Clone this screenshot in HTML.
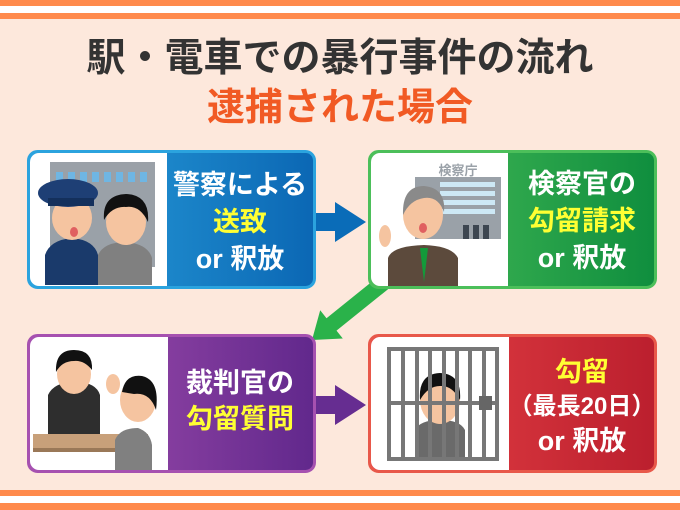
<!DOCTYPE html>
<html><head><meta charset="utf-8"><style>
body{margin:0;width:680px;height:510px;overflow:hidden;background:#fde8dc}
svg{display:block}
text{font-family:"Liberation Sans","Noto Sans CJK JP",sans-serif;font-weight:bold}
</style></head><body>
<svg width="680" height="510" viewBox="0 0 680 510">
<defs>
<linearGradient id="gb" x1="0" x2="1"><stop offset="0" stop-color="#2ba3de"/><stop offset="1" stop-color="#0b67b4"/></linearGradient>
<linearGradient id="gg" x1="0" x2="1"><stop offset="0" stop-color="#4cbf5a"/><stop offset="1" stop-color="#0f8e3e"/></linearGradient>
<linearGradient id="gp" x1="0" x2="1"><stop offset="0" stop-color="#a651b0"/><stop offset="1" stop-color="#61288c"/></linearGradient>
<linearGradient id="gr" x1="0" x2="1"><stop offset="0" stop-color="#e84346"/><stop offset="1" stop-color="#bb1f2e"/></linearGradient>
</defs>
<rect width="680" height="510" fill="#fde8dc"/>
<rect x="0" y="0" width="680" height="6" fill="#ff8a4c"/>
<rect x="0" y="6" width="680" height="7" fill="#fff"/>
<rect x="0" y="13" width="680" height="6" fill="#ff8a4c"/>
<rect x="0" y="490" width="680" height="6" fill="#ff8a4c"/>
<rect x="0" y="496" width="680" height="7" fill="#fff"/>
<rect x="0" y="503" width="680" height="7" fill="#ff8a4c"/>

<text x="340" y="71" font-size="39" fill="#333" text-anchor="middle">駅・電車での暴行事件の流れ</text>
<text x="340" y="120" font-size="38" fill="#f15a24" text-anchor="middle">逮捕された場合</text>

<!-- arrows -->
<path d="M315 213 H335 V202 L366 222 L335 242 V231 H315 Z" fill="#0a6cb8"/>
<polygon points="378,276.8 326.5,318.2 320.2,310.3 312,340 342.8,338.5 336.5,330.6 388,289.2" fill="#2ab24a"/>
<path d="M315 396 H335 V385 L366 405 L335 425 V414 H315 Z" fill="#662d91"/>

<!-- box1 -->
<rect x="28.5" y="151.5" width="286" height="136" rx="9" fill="url(#gb)" stroke="#2ba3de" stroke-width="3"/>
<path d="M30 162 a9 9 0 0 1 9-9 H167 V286 H39 a9 9 0 0 1-9-9Z" fill="#fff"/>
<rect x="50" y="162" width="105" height="105" fill="#9aa1a8"/>
<g fill="#6fb6e3"><rect x="56" y="172" width="7" height="10"/><rect x="68" y="172" width="7" height="10"/><rect x="80" y="172" width="7" height="10"/><rect x="92" y="172" width="7" height="10"/><rect x="104" y="172" width="7" height="10"/><rect x="116" y="172" width="7" height="10"/><rect x="128" y="172" width="7" height="10"/><rect x="140" y="172" width="7" height="10"/></g>
<path d="M45 285 V255 Q50 240 72 238 Q94 240 98 255 V285Z" fill="#1a3a6b"/>
<ellipse cx="72" cy="218" rx="20" ry="22" fill="#f5c4a0"/>
<ellipse cx="68" cy="193" rx="30" ry="14" fill="#1e3f75"/>
<rect x="48" y="198" width="46" height="8" fill="#14305c"/>
<ellipse cx="74" cy="232" rx="4" ry="5" fill="#e06060"/>
<path d="M98 285 V255 Q104 242 126 242 Q148 244 152 258 V285Z" fill="#808080"/>
<ellipse cx="126" cy="222" rx="20" ry="23" fill="#f5c4a0"/>
<path d="M104 220 Q102 195 126 194 Q150 195 148 222 Q140 205 126 207 Q112 206 104 220Z" fill="#111"/>
<text x="240" y="194" font-size="27" fill="#fff" text-anchor="middle">警察による</text>
<text x="240" y="231" font-size="27" fill="#ffff33" text-anchor="middle">送致</text>
<text x="240" y="268" font-size="27" fill="#fff" text-anchor="middle">or 釈放</text>

<!-- box2 -->
<rect x="369.5" y="151.5" width="286" height="136" rx="9" fill="url(#gg)" stroke="#4cbf5a" stroke-width="3"/>
<path d="M371 162 a9 9 0 0 1 9-9 H508 V286 H380 a9 9 0 0 1-9-9Z" fill="#fff"/>
<rect x="415" y="177" width="86" height="62" fill="#9aa1a8"/>
<g fill="#cde8f5"><rect x="440" y="182" width="55" height="5"/><rect x="440" y="191" width="55" height="5"/><rect x="440" y="200" width="55" height="5"/><rect x="440" y="209" width="55" height="5"/></g>
<g fill="#3d4650"><rect x="463" y="225" width="6" height="14"/><rect x="473" y="225" width="6" height="14"/><rect x="483" y="225" width="6" height="14"/></g>
<text x="458" y="175" font-size="13" fill="#9aa1a8" text-anchor="middle">検察庁</text>
<path d="M388 286 V258 Q392 246 424 245 Q452 246 458 258 V286Z" fill="#5c4a3c"/>
<path d="M420 248 L424 282 L428 248Z" fill="#139a3a"/>
<ellipse cx="423" cy="215" rx="20" ry="24" fill="#f5c4a0"/>
<path d="M403 215 Q402 186 424 186 Q446 188 444 212 Q438 196 424 198 Q410 200 403 215Z" fill="#8a8a8a"/>
<ellipse cx="423" cy="228" rx="4" ry="5" fill="#e06060"/>
<ellipse cx="385" cy="236" rx="6" ry="11" fill="#f5c4a0"/>
<text x="582" y="193" font-size="27" fill="#fff" text-anchor="middle">検察官の</text>
<text x="582" y="230" font-size="27" fill="#ffff33" text-anchor="middle">勾留請求</text>
<text x="582" y="267" font-size="27" fill="#fff" text-anchor="middle">or 釈放</text>

<!-- box3 -->
<rect x="28.5" y="335.5" width="286" height="136" rx="9" fill="url(#gp)" stroke="#a651b0" stroke-width="3"/>
<path d="M30 346 a9 9 0 0 1 9-9 H168 V470 H39 a9 9 0 0 1-9-9Z" fill="#fff"/>
<path d="M48 438 V395 Q54 382 75 382 Q96 382 100 395 V438Z" fill="#2e2e2e"/>
<ellipse cx="74" cy="374" rx="17" ry="20" fill="#f5c4a0"/>
<path d="M56 372 Q55 350 74 350 Q93 350 92 370 Q84 360 74 361 Q62 361 56 372Z" fill="#111"/>
<ellipse cx="113" cy="384" rx="7" ry="10" fill="#f5c4a0"/>
<rect x="33" y="434" width="115" height="16" fill="#c8a07a"/>
<rect x="33" y="448" width="115" height="4" fill="#9a7858"/>
<path d="M115 470 V440 Q120 428 138 428 Q150 432 152 445 V470Z" fill="#808080"/>
<ellipse cx="138" cy="400" rx="18" ry="22" fill="#f5c4a0"/>
<path d="M122 392 Q125 374 142 376 Q160 380 156 410 Q150 392 134 394Z" fill="#111"/>
<text x="240" y="392" font-size="27" fill="#fff" text-anchor="middle">裁判官の</text>
<text x="240" y="428" font-size="27" fill="#ffff33" text-anchor="middle">勾留質問</text>

<!-- box4 -->
<rect x="369.5" y="335.5" width="286" height="136" rx="9" fill="url(#gr)" stroke="#e8584a" stroke-width="3"/>
<path d="M371 346 a9 9 0 0 1 9-9 H509 V470 H380 a9 9 0 0 1-9-9Z" fill="#fff"/>
<path d="M415 460 V430 Q420 420 440 420 Q460 420 465 430 V460Z" fill="#6a6a6a"/>
<ellipse cx="440" cy="400" rx="20" ry="24" fill="#f5c4a0"/>
<path d="M420 400 Q418 374 440 373 Q462 374 460 400 Q452 385 440 386 Q428 386 420 400Z" fill="#111"/>
<g stroke="#777" stroke-width="4" fill="none">
<rect x="389" y="349" width="108" height="110"/>
<line x1="403" y1="349" x2="403" y2="459"/><line x1="417" y1="349" x2="417" y2="459"/><line x1="430" y1="349" x2="430" y2="459"/><line x1="444" y1="349" x2="444" y2="459"/><line x1="457" y1="349" x2="457" y2="459"/><line x1="470" y1="349" x2="470" y2="459"/><line x1="484" y1="349" x2="484" y2="459"/>
<line x1="389" y1="403" x2="497" y2="403"/>
</g>
<rect x="479" y="396" width="13" height="14" fill="#666"/>
<text x="582" y="381" font-size="27" fill="#ffff33" text-anchor="middle">勾留</text>
<text x="582" y="414" font-size="24" fill="#fff" text-anchor="middle">（最長20日）</text>
<text x="582" y="450" font-size="27" fill="#fff" text-anchor="middle">or 釈放</text>
</svg>
</body></html>
